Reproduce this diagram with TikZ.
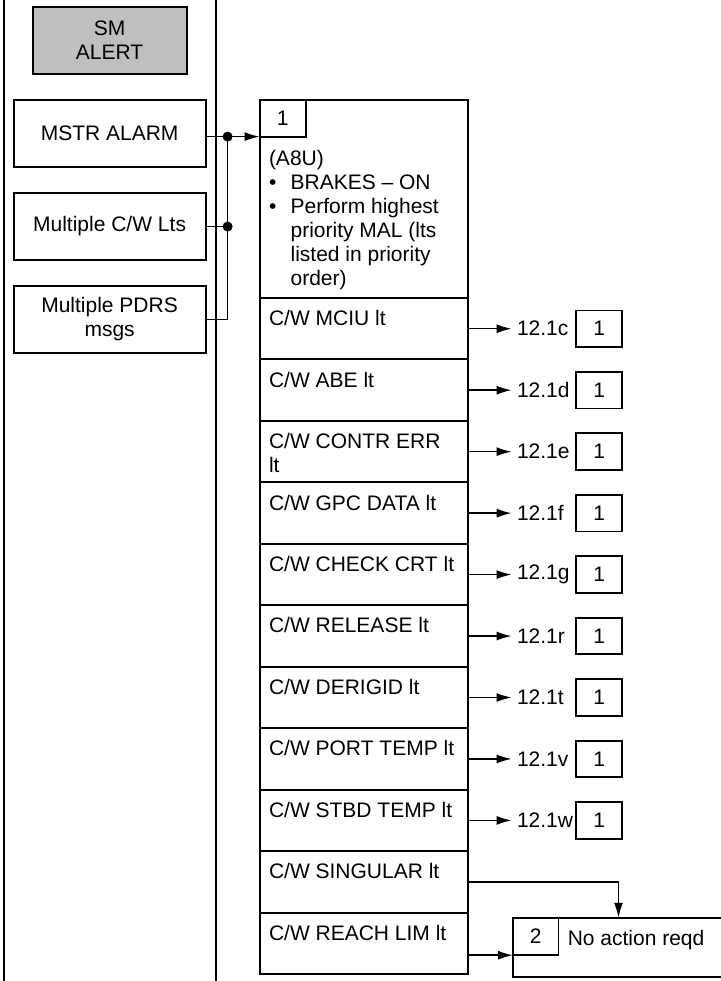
\documentclass[tikz,border=0pt]{standalone}
\usepackage{fontspec}
\setmainfont{Liberation Sans}
\usetikzlibrary{arrows.meta,positioning}

\begin{document}
\begin{tikzpicture}[
    font=\fontsize{10.5}{12}\selectfont,
    node distance=13pt,
    leftbox/.style={draw, line width=1pt, outer sep=0pt, minimum width=96pt, minimum height=33.5pt, align=center},
    alertbox/.style={leftbox, minimum width=77pt, fill=black!25},
    mainbox/.style={draw, line width=1pt, outer sep=0pt, minimum width=104pt, minimum height=99pt},
    rowbox/.style={mainbox, minimum height=30.73pt},
    rowtext/.style={anchor=north west, inner xsep=4.5pt, inner ysep=6pt, align=left},
    numbox/.style={draw, line width=0.9pt, outer sep=0pt, minimum width=23pt, minimum height=18.3pt},
    endbox/.style={draw, line width=1pt, outer sep=0pt, minimum width=105.5pt, minimum height=29.7pt},
    reflabel/.style={inner xsep=2.5pt, inner ysep=1pt},
    arrow/.style={-{Latex[length=7.5pt,width=4.5pt]}, line width=0.75pt},
    link/.style={line width=0.75pt}
]
\useasboundingbox (0,0) rectangle (360pt,-490.5pt);
% column rules
\draw[line width=1pt] (2pt,0) -- (2pt,-490.5pt);
\draw[line width=1pt] (108pt,0) -- (108pt,-490.5pt);

% cues
\node[alertbox] (alert) at (54.8pt,-20.25pt) {SM\\ALERT};
\node[leftbox, below=of alert] (mstr) {MSTR ALARM};
\node[leftbox, below=of mstr] (cwl) {Multiple C/W Lts};
\node[leftbox, below=of cwl] (pdrs) {Multiple PDRS\\msgs};

% procedure column
\node[mainbox, below right=0pt and 27pt of mstr.north east] (top) {};
\node[numbox, anchor=north west] (one) at (top.north west) {1};
\node[align=left, inner sep=2pt, below right=4.5pt and 2.5pt of one.south west] (brief) {(A8U)\\
    \makebox[10.8pt][l]{\textbullet}BRAKES -- ON\\
    \makebox[10.8pt][l]{\textbullet}Perform highest\\
    \hspace*{10.8pt}priority MAL (lts\\
    \hspace*{10.8pt}listed in priority\\
    \hspace*{10.8pt}order)};
\node[rowbox, below=0pt of top, label={[rowtext]north west:C/W MCIU lt}] (r1) {};
\node[rowbox, below=0pt of r1, label={[rowtext]north west:C/W ABE lt}] (r2) {};
\node[rowbox, below=0pt of r2, label={[rowtext]north west:C/W CONTR ERR\\lt}] (r3) {};
\node[rowbox, below=0pt of r3, label={[rowtext]north west:C/W GPC DATA lt}] (r4) {};
\node[rowbox, below=0pt of r4, label={[rowtext]north west:C/W CHECK CRT lt}] (r5) {};
\node[rowbox, below=0pt of r5, label={[rowtext]north west:C/W RELEASE lt}] (r6) {};
\node[rowbox, below=0pt of r6, label={[rowtext]north west:C/W DERIGID lt}] (r7) {};
\node[rowbox, below=0pt of r7, label={[rowtext]north west:C/W PORT TEMP lt}] (r8) {};
\node[rowbox, below=0pt of r8, label={[rowtext]north west:C/W STBD TEMP lt}] (r9) {};
\node[rowbox, below=0pt of r9, label={[rowtext]north west:C/W SINGULAR lt}] (r10) {};
\node[rowbox, below=0pt of r10, label={[rowtext]north west:C/W REACH LIM lt}] (r11) {};

% no action
\node[endbox, below right=2.6pt and 22.7pt of r11.north east] (noact) {};
\node[numbox, minimum width=22.7pt, minimum height=18.7pt, anchor=north west] (two) at (noact.north west) {2};
\node[rowtext] (noacttext) at (two.north east) {No action reqd};

% inputs joined into step 1
\coordinate[right=11pt of mstr.east] (jn);
\draw[arrow] (mstr.east |- one.south west) -- (one.south west);
\draw[link] (cwl.east) -- (jn |- cwl.east);
\draw[link] (pdrs.east) -| (jn |- one.south west);
\fill (jn |- one.south west) circle (2.5pt);
\fill (jn |- cwl.east) circle (2.5pt);

% malfunction refs
\foreach \rw/\secno in {r1/12.1c, r2/12.1d, r3/12.1e, r4/12.1f, r5/12.1g, r6/12.1r, r7/12.1t, r8/12.1v, r9/12.1w} {
    \node[reflabel, right=22pt of \rw] (\rw-ref) {\secno};
    \node[numbox, right=54.3pt of \rw] (\rw-box) {1};
    \draw[arrow] (\rw) -- (\rw-ref);
}
\draw[arrow] (r10) -| (noact.north);
\draw[arrow] (r11.east |- two.south west) -- (two.south west);
\end{tikzpicture}
\end{document}
